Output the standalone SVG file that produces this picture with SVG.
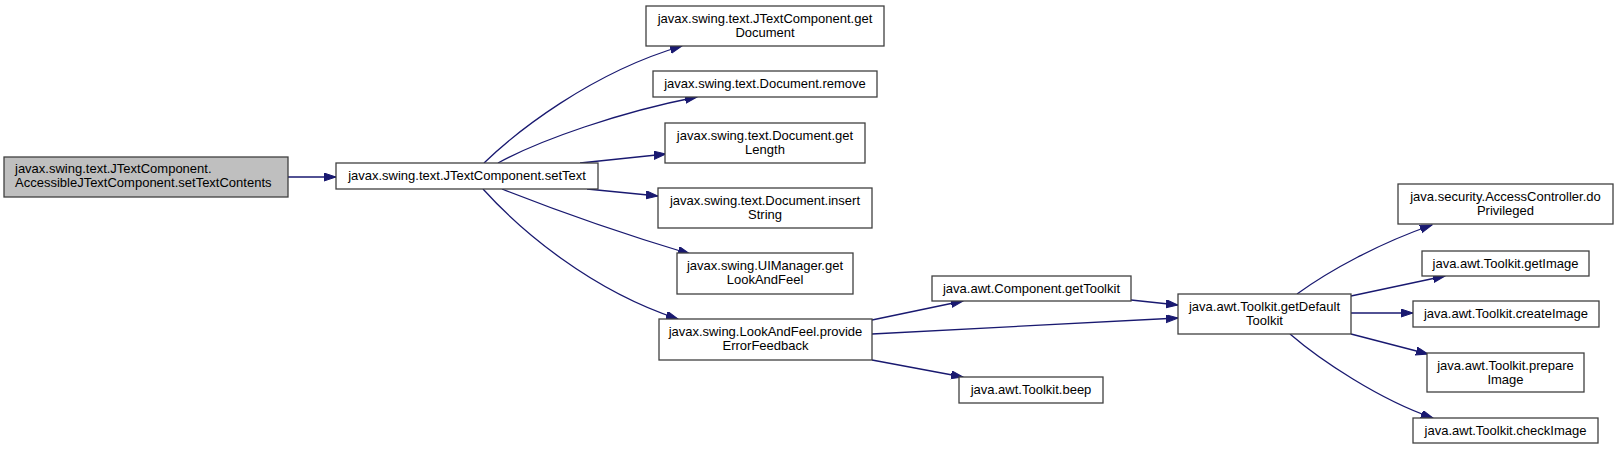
<svg xmlns="http://www.w3.org/2000/svg" width="1619" height="450" viewBox="0 0 1619 450">
<style>
.n rect{fill:#ffffff;stroke:#404040;stroke-width:1.3}
.n.root rect{fill:#bfbfbf}
.n text{font-family:"Liberation Sans",Arial,sans-serif;font-size:13px;fill:#000000;text-anchor:middle}
.n.root text{text-anchor:start}
#edges path{fill:none;stroke:#191970;stroke-width:1.3;marker-end:url(#arr)}
</style>
<defs>
<marker id="arr" markerUnits="userSpaceOnUse" markerWidth="13" markerHeight="9" refX="12" refY="4" orient="auto">
<path d="M0,0 L12,4 L0,8 z" fill="#191970" stroke="#191970" stroke-width="1"/>
</marker>
</defs>
<rect width="1619" height="450" fill="#ffffff"/>
<g id="edges">
<path d="M288,177 L336,177"/>
<path d="M484,163 C515,133 590,73 682,46"/>
<path d="M498,163 C540,140 620,112 697,97"/>
<path d="M580,163 L666,154"/>
<path d="M587,189 L658,196"/>
<path d="M502,189 C560,212 630,236 690,254"/>
<path d="M483,189 C520,230 590,290 678,319"/>
<path d="M872,320 L963,301"/>
<path d="M872,334 L1178,318"/>
<path d="M872,360 L963,377"/>
<path d="M1131,300 L1178,305"/>
<path d="M1297,294 C1330,270 1380,243 1432,225"/>
<path d="M1351,296 L1445,276"/>
<path d="M1351,313 L1413,313"/>
<path d="M1351,334 L1428,354"/>
<path d="M1290,334 C1320,360 1380,400 1433,418"/>
</g>
<g id="n0" class="n root"><rect x="4" y="157" width="284" height="40"/><text x="15" y="173">javax.swing.text.JTextComponent.</text><text x="15" y="187">AccessibleJTextComponent.setTextContents</text></g>
<g id="n1" class="n"><rect x="336" y="163" width="262" height="26"/><text x="467" y="180">javax.swing.text.JTextComponent.setText</text></g>
<g id="n2" class="n"><rect x="646" y="6" width="238" height="40"/><text x="765" y="23">javax.swing.text.JTextComponent.get</text><text x="765" y="37">Document</text></g>
<g id="n3" class="n"><rect x="653" y="71" width="224" height="26"/><text x="765" y="88">javax.swing.text.Document.remove</text></g>
<g id="n4" class="n"><rect x="665" y="123" width="200" height="40"/><text x="765" y="140">javax.swing.text.Document.get</text><text x="765" y="154">Length</text></g>
<g id="n5" class="n"><rect x="658" y="188" width="214" height="40"/><text x="765" y="205">javax.swing.text.Document.insert</text><text x="765" y="219">String</text></g>
<g id="n6" class="n"><rect x="677" y="253" width="176" height="41"/><text x="765" y="270">javax.swing.UIManager.get</text><text x="765" y="284">LookAndFeel</text></g>
<g id="n7" class="n"><rect x="659" y="319" width="213" height="41"/><text x="765.5" y="336">javax.swing.LookAndFeel.provide</text><text x="765.5" y="350">ErrorFeedback</text></g>
<g id="n8" class="n"><rect x="932" y="276" width="199" height="25"/><text x="1031.5" y="293">java.awt.Component.getToolkit</text></g>
<g id="n9" class="n"><rect x="1178" y="294" width="173" height="40"/><text x="1264.5" y="311">java.awt.Toolkit.getDefault</text><text x="1264.5" y="325">Toolkit</text></g>
<g id="n10" class="n"><rect x="959" y="377" width="144" height="26"/><text x="1031" y="394">java.awt.Toolkit.beep</text></g>
<g id="n11" class="n"><rect x="1398" y="184" width="215" height="40"/><text x="1505.5" y="201">java.security.AccessController.do</text><text x="1505.5" y="215">Privileged</text></g>
<g id="n12" class="n"><rect x="1422" y="251" width="167" height="25"/><text x="1505.5" y="268">java.awt.Toolkit.getImage</text></g>
<g id="n13" class="n"><rect x="1413" y="301" width="186" height="26"/><text x="1506" y="318">java.awt.Toolkit.createImage</text></g>
<g id="n14" class="n"><rect x="1427" y="353" width="157" height="39"/><text x="1505.5" y="370">java.awt.Toolkit.prepare</text><text x="1505.5" y="384">Image</text></g>
<g id="n15" class="n"><rect x="1413" y="418" width="185" height="25"/><text x="1505.5" y="435">java.awt.Toolkit.checkImage</text></g>
</svg>
